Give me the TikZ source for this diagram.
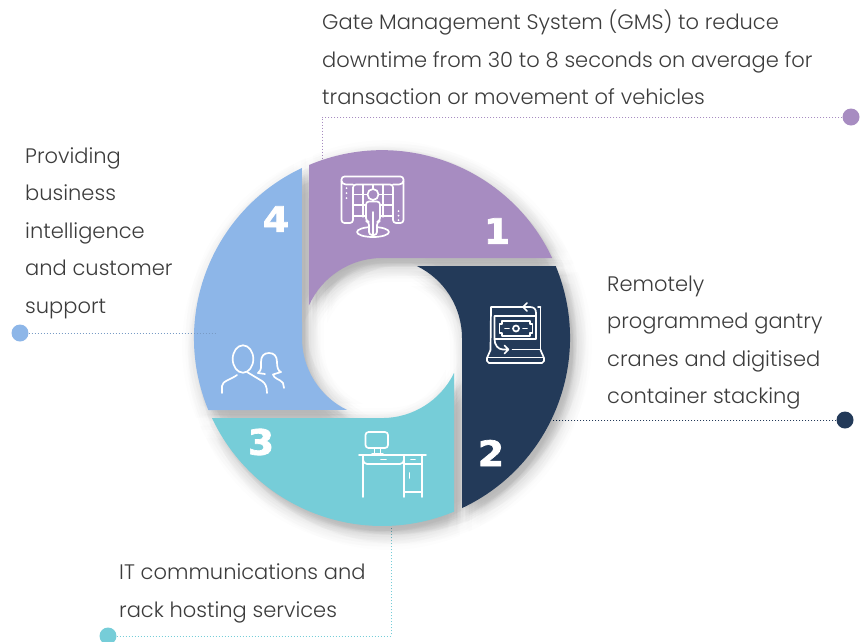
\documentclass[tikz,border=0pt]{standalone}
\usepackage{fontspec}
\setmainfont{Poppins}[UprightFont=* Light]
\newfontfamily\numfont{DejaVu Sans}[BoldFeatures={FakeBold=2,FakeStretch=1.08}]
\definecolor{segpurple}{HTML}{A78CC1}
\definecolor{segnavy}{HTML}{233A59}
\definecolor{segteal}{HTML}{76CDD8}
\definecolor{segblue}{HTML}{8DB6E8}
\definecolor{bodytext}{HTML}{3C3C3C}
\def\segone{(309,165) arc[start angle=-112.9,end angle=-25.2,radius=188] -- (382,258) arc[start angle=-90,end angle=-155.9,radius=80] -- cycle}
\def\segtwo{(417,266) -- (555.7,266) arc[start angle=-22.5,end angle=64.8,radius=188] -- (462,338) arc[start angle=0,end angle=-64.1,radius=80] -- cycle}
\def\segthree{(212,418) arc[start angle=154.8,end angle=67.5,radius=188] -- (454,373) arc[start angle=25.9,end angle=90,radius=80] -- cycle}
\def\segfour{(208.3,410) arc[start angle=157.5,end angle=244.8,radius=188] -- (302,338) arc[start angle=180,end angle=115.9,radius=80] -- cycle}
\tikzset{
    caption/.style={anchor=north west,align=left,inner sep=0pt,text=bodytext,font=\fontsize{21}{37.5}\selectfont},
    segnum/.style={text=white,inner sep=0pt,font=\numfont\bfseries\fontsize{35}{35}\selectfont},
    enddot/.style={circle,inner sep=0pt,minimum size=17,fill=#1},
    link/.style={draw=#1,line width=1,dotted},
    icon/.style={draw=white,line width=1.7,line cap=round,line join=round}
}
\begin{document}
\begin{tikzpicture}[x=1pt,y=-1pt]
    \useasboundingbox (0,0) rectangle (866,641);

    \node [enddot=segpurple] (dot1) at (851,117) {};
    \node [enddot=segnavy] (dot2) at (845,420) {};
    \node [enddot=segteal] (dot3) at (108,636) {};
    \node [enddot=segblue] (dot4) at (20,333) {};
    \coordinate (bend1) at (322,117);
    \coordinate (end1) at (322,162);
    \coordinate (end2) at (548,420);
    \coordinate (bend3) at (391,636);
    \coordinate (end3) at (391,524);
    \coordinate (end4) at (215,333);
    \draw[link=segpurple] (dot1) -- (bend1) -- (end1);
    \draw[link=segnavy] (dot2) -- (end2);
    \draw[link=segteal] (dot3) -- (bend3) -- (end3);

    \foreach \r in {2,5,8,11,14,17} {
        \foreach \a in {0,45,...,315} {
            \fill[black,opacity=0.007,shift={({5+\r*cos(\a+\r*13)},{7+\r*sin(\a+\r*13)})}] \segone;
            \fill[black,opacity=0.007,shift={({5+\r*cos(\a+\r*13)},{7+\r*sin(\a+\r*13)})}] \segtwo;
            \fill[black,opacity=0.007,shift={({5+\r*cos(\a+\r*13)},{7+\r*sin(\a+\r*13)})}] \segthree;
            \fill[black,opacity=0.007,shift={({5+\r*cos(\a+\r*13)},{7+\r*sin(\a+\r*13)})}] \segfour;
        }
    }
    \fill[segpurple] \segone;
    \fill[segnavy] \segtwo;
    \fill[segteal] \segthree;
    \fill[segblue] \segfour;
    \draw[link=segblue!85!black] (dot4) -- (end4);

    \node [caption] (text1) at (322,10) {Gate Management System (GMS) to reduce\\downtime from 30 to 8 seconds on average for\\transaction or movement of vehicles};
    \node [caption] (text2) at (607,275.5) {Remotely\\programmed gantry\\cranes and digitised\\container stacking};
    \node [caption] (text3) at (119,563.5) {IT communications and\\rack hosting services};
    \node [caption] (text4) at (25,147) {Providing\\business\\intelligence\\and customer\\support};

    \node [segnum] (num1) at (497,231) {1};
    \node [segnum] (num2) at (491,453) {2};
    \node [segnum] (num3) at (261,442) {3};
    \node [segnum] (num4) at (276,219) {4};

    \draw[icon,rounded corners=3] (341.5,223) -- (341.5,176.5) -- (403.5,176.5) -- (403.5,223) -- (393,223) -- (393,184.5) -- (353,184.5) -- (353,223) -- cycle;
    \draw[icon] (341.5,181) .. controls (341.5,183) and (344,184.5) .. (346,184.5) -- (353,184.5) (403.5,181) .. controls (403.5,183) and (401,184.5) .. (399,184.5) -- (393,184.5);
    \foreach \g in {363,373,383} {
        \draw[icon,line width=1.3] (\g,184.5) -- (\g,217);
    }
    \foreach \g in {194.5,205,216} {
        \draw[icon,line width=1.3] (353,\g) -- (393,\g);
    }
    \foreach \g in {188,193,198} {
        \fill[white] (346.5,\g) circle (1);
    }
    \foreach \g in {211,215.5,220} {
        \fill[white] (398.5,\g) circle (1);
    }
    \draw[icon] (373,232) ellipse (16 and 5);
    \draw[icon,fill=segpurple] (373,194.5) circle (5.5);
    \draw[icon,fill=segpurple,rounded corners=3] (366,221) -- (366,201.5) -- (380,201.5) -- (380,221) -- (377,222) -- (377,235) -- (369,235) -- (369,222) -- cycle;
    \draw[icon] (373,212) -- (373,235);

    \draw[icon] (523,307) -- (491,307) -- (490.5,350);
    \draw[icon] (530,307) .. controls (534,307) and (536,309) .. (536,313) -- (536,339) -- (494.5,339) -- (494.5,316) -- (536,316);
    \draw[icon] (530,307) -- (523.5,307) (527,303) -- (523,307) -- (527,311);
    \draw[icon] (540.5,307) -- (540.5,350) (540.5,307) -- (538,307);
    \draw[icon] (494.5,339) .. controls (494.5,345) and (498,349.5) .. (503,349.5) -- (508,349.5) (504.5,345.5) -- (508.5,349.5) -- (504.5,353.5);
    \draw[icon] (512.5,349.5) -- (540.5,349.5);
    \draw[icon] (490.5,350) -- (487,358) -- (487,361) -- (489,363) -- (542,363) -- (544,361) -- (544,358) -- (540.5,350);
    \draw[icon] (487.5,357.5) -- (543.5,357.5);
    \draw[icon] (499.5,324) -- (502,324) -- (502,321) -- (530,321) -- (530,324) -- (532.5,324) -- (532.5,333) -- (530,333) -- (530,336) -- (502,336) -- (502,333) -- (499.5,333) -- cycle;
    \draw[icon] (516,328.5) circle (3);
    \draw[icon] (505,328.5) -- (509,328.5) (523,328.5) -- (527,328.5);

    \draw[icon,rounded corners=3] (365.5,432) rectangle (388,448);
    \draw[icon] (374.5,448) -- (374.5,453) (380.5,448) -- (380.5,453) (372,454) -- (383,454);
    \draw[icon] (359,455) -- (426,455);
    \draw[icon] (363,455) -- (363,497) (404,455) -- (404,497) (422,455) -- (422,497);
    \draw[icon] (363,460) .. controls (363,462) and (365,464) .. (367,464) -- (400,464) .. controls (402,464) and (404,462) .. (404,460);
    \draw[icon] (404,464) -- (422,464) (404,492) -- (422,492);
    \draw[icon] (381,459.5) -- (386,459.5) (411,459.5) -- (415,459.5) (409.5,473) -- (409.5,478);

    \draw[icon] (243,359) ellipse (10.3 and 13.7);
    \draw[icon] (222,393) -- (222,386) .. controls (222,381) and (232,379) .. (237,375);
    \draw[icon] (247,372) -- (262,381) .. controls (265,383) and (267,386) .. (267,393);
    \draw[icon] (258,373) .. controls (262,370) and (261,366) .. (261,362) .. controls (261,356) and (264,353) .. (269,353) .. controls (274,353) and (277,356) .. (277,362) .. controls (277,367) and (278,371) .. (281,372) -- (273,374.5) .. controls (274,379) and (280,379) .. (283,383) -- (284,388);
    \draw[icon] (258,373) -- (265,374);
\end{tikzpicture}
\end{document}
